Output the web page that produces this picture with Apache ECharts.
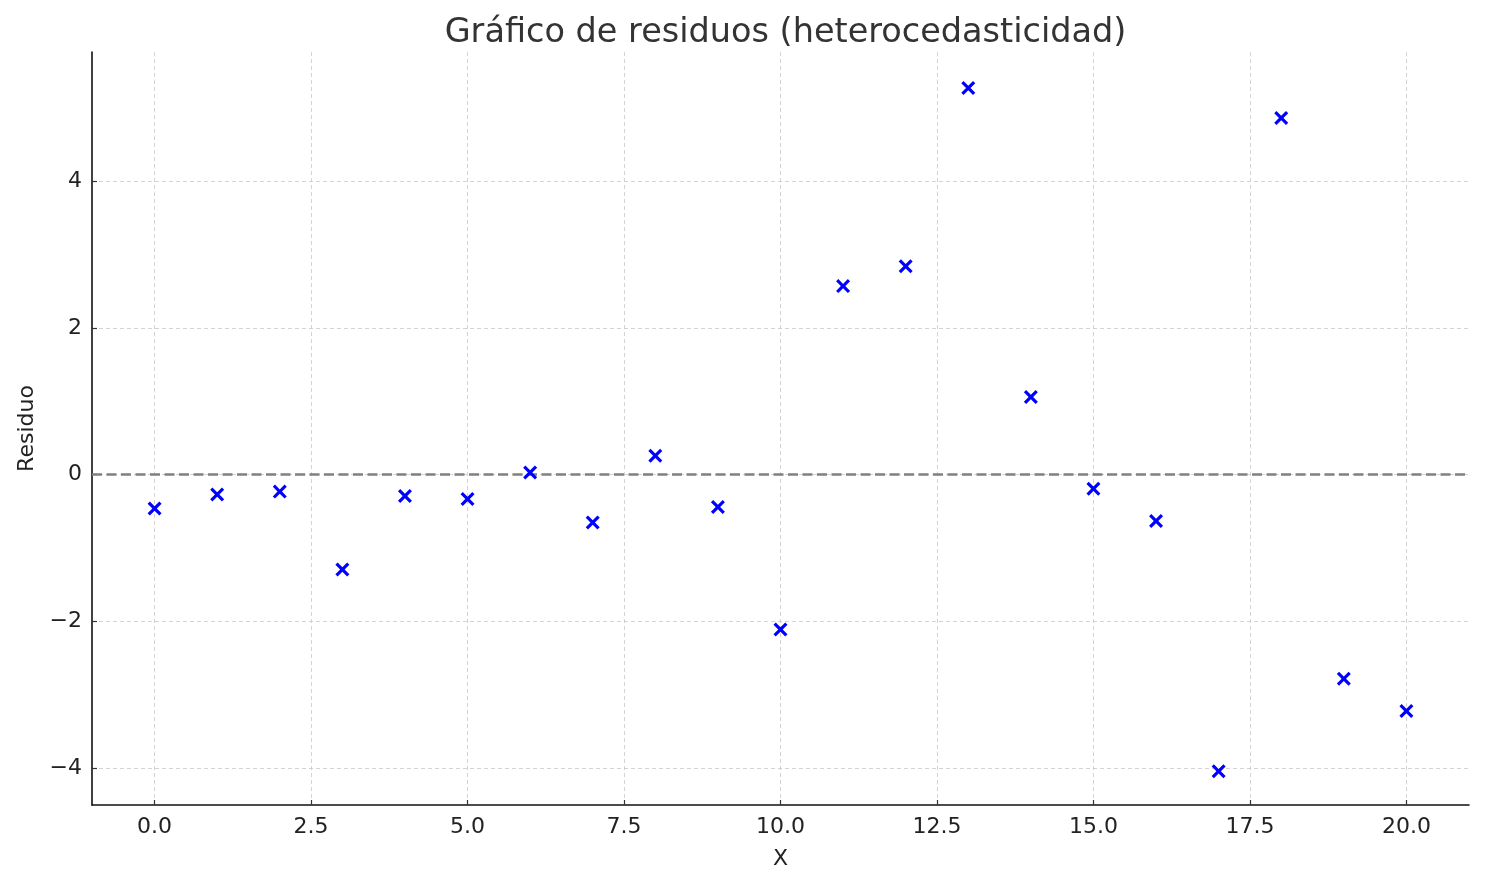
<!DOCTYPE html>
<html>
<head>
<meta charset="utf-8">
<script src="https://cdn.jsdelivr.net/npm/echarts@6/dist/echarts.min.js"></script>
<style>
html,body{margin:0;padding:0;background:#fff;}
#c{width:1485px;height:885px;}
</style>
</head>
<body>
<div id="c"></div>
<script>
const titleText = "Gráfico de residuos (heterocedasticidad)";
const xLabel = "X";
const yLabel = "Residuo";
const xValues = [0,1,2,3,4,5,6,7,8,9,10,11,12,13,14,15,16,17,18,19,20];
const residuals = [-0.46,-0.27,-0.23,-1.29,-0.29,-0.33,0.03,-0.65,0.26,-0.44,-2.11,2.57,2.84,5.27,1.06,-0.19,-0.63,-4.04,4.86,-2.78,-3.22];
const xTicks = [0,2.5,5,7.5,10,12.5,15,17.5,20];
const yTicks = [-4,-2,0,2,4];

const fmt = (v, d) => {
  const s = Number(v).toFixed(d);
  return s.replace('-', '\u2212');
};

const chart = echarts.init(document.getElementById('c'), null, {renderer:'canvas'});
const xSymbol = 'path://M0,0.16 L0.16,0 L0.5,0.34 L0.84,0 L1,0.16 L0.66,0.5 L1,0.84 L0.84,1 L0.5,0.66 L0.16,1 L0,0.84 L0.34,0.5 Z';

chart.setOption({
  backgroundColor:'#fff',
  animation:false,
  title:{
    text:titleText,
    left:780.5, textAlign:'center', top:11,
    textStyle:{fontFamily:'DejaVu Sans', fontSize:33.5, fontWeight:'normal', color:'#333'}
  },
  grid:{left:92, right:16, top:52, bottom:80},
  xAxis:{
    type:'value', min:-1, max:21,
    name:xLabel, nameLocation:'middle', nameGap:43,
    nameTextStyle:{fontFamily:'DejaVu Sans', fontSize:22, color:'#222'},
    axisLine:{show:true, onZero:false, lineStyle:{color:'#111', width:1.6}},
    axisTick:{show:true, inside:true, length:5, customValues:xTicks, lineStyle:{color:'#333', width:1.2}},
    axisLabel:{customValues:xTicks, margin:11, formatter:v=>fmt(v,1), fontFamily:'DejaVu Sans', fontSize:22, color:'#222'},
    splitLine:{show:true, lineStyle:{color:'#c8c8c8', width:0.8, type:[4,3]}}
  },
  yAxis:{
    type:'value', min:-4.5, max:5.76,
    name:yLabel, nameLocation:'middle', nameGap:53, nameRotate:90,
    nameTextStyle:{fontFamily:'DejaVu Sans', fontSize:22, color:'#222'},
    axisLine:{show:true, onZero:false, lineStyle:{color:'#111', width:1.6}},
    axisTick:{show:true, inside:true, length:5, customValues:yTicks, lineStyle:{color:'#333', width:1.2}},
    axisLabel:{customValues:yTicks, margin:10, formatter:v=>fmt(v,0), fontFamily:'DejaVu Sans', fontSize:22, color:'#222'},
    splitLine:{show:true, lineStyle:{color:'#c8c8c8', width:0.8, type:[4,3]}}
  },
  series:[{
    type:'scatter',
    data:xValues.map((x,i)=>[x,residuals[i]]),
    symbol:xSymbol,
    symbolSize:14,
    itemStyle:{color:'#0000ff', opacity:1},
    z:5,
    markLine:{
      silent:true, symbol:['none','none'], label:{show:false},
      lineStyle:{color:'#808080', width:2.6, type:[10,4.5], opacity:1},
      data:[{yAxis:0}],
      z:3
    }
  }]
});
</script>
</body>
</html>
